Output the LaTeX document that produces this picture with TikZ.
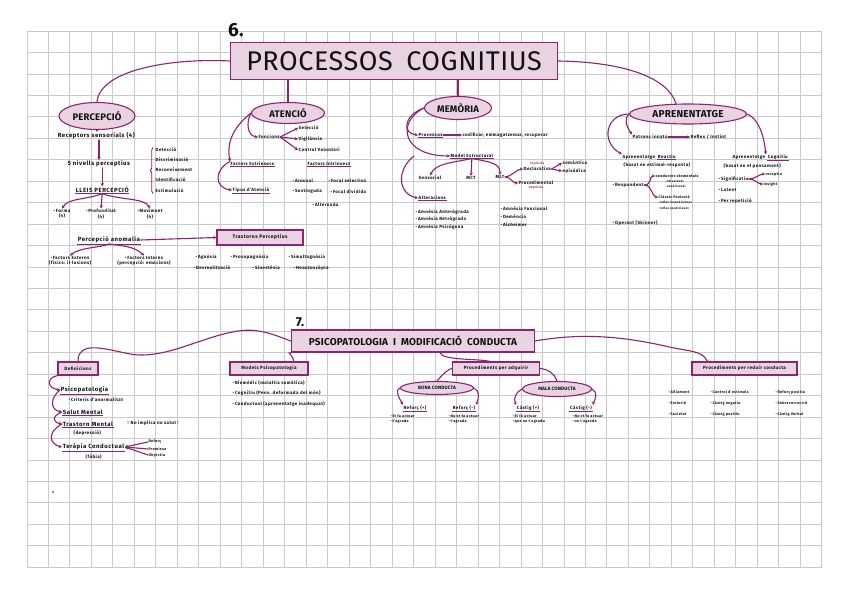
\documentclass[tikz,border=0pt]{standalone}
\usepackage{fontspec}
\setmainfont{Fira Sans}[LetterSpace=9]
\newfontfamily\headfont{Fira Sans}[LetterSpace=2]
\usepackage{tikz}
\usetikzlibrary{shapes.geometric, arrows.meta, positioning, calc, decorations.pathreplacing}
\definecolor{plum}{HTML}{8E2470}
\definecolor{plumfill}{HTML}{E9D2E1}
\definecolor{gridgray}{HTML}{C9C9C9}
\definecolor{ink}{HTML}{111111}
\newcommand{\bulpt}{\textcolor{plum}{\textbullet}\,}
\tikzset{
  lnk/.style={draw=plum, line width=1.1pt, line cap=round},
  arr/.style={lnk, -{Stealth[length=3.2pt, width=3.4pt]}},
  titlebox/.style={rectangle, draw=plum, fill=plumfill, line width=1.3pt, text=ink, inner sep=1pt},
  bub/.style={ellipse, draw=plum, fill=plumfill, line width=1.1pt, inner sep=0pt, text=ink, font=\headfont\bfseries\fontsize{9.5}{10}\selectfont},
  boxed/.style={rectangle, draw=plum, fill=plumfill, line width=1.1pt, inner sep=1pt, text=ink, font=\bfseries\fontsize{4.6}{5.5}\selectfont},
  lbl/.style={inner sep=0.6pt, text=ink, font=\bfseries\fontsize{6}{7}\selectfont},
  sml/.style={inner sep=0.5pt, text=ink, font=\bfseries\fontsize{4.5}{5.4}\selectfont},
  xs/.style={inner sep=0.4pt, text=ink, font=\bfseries\fontsize{3.7}{4.6}\selectfont},
  tny/.style={inner sep=0.3pt, text=ink, font=\bfseries\fontsize{3}{3.6}\selectfont},
  ul/.style={append after command={(\tikzlastnode.south west) edge[draw=plum, line width=0.8pt] (\tikzlastnode.south east)}},
  brc/.style={draw=plum, line width=0.9pt, decorate, decoration={brace, amplitude=2.5pt}},
  gridline/.style={draw=gridgray, line width=0.6pt},
}

\begin{document}
\begin{tikzpicture}[x=1pt, y=-1pt]
  \useasboundingbox (0,0) rectangle (848,599);
  \fill[white] (0,0) rectangle (848,599);

  % Squared paper
  \foreach \i in {0,...,37} \draw[gridline] ({26.8+21.48*\i},31) -- ({26.8+21.48*\i},567);
  \foreach \j in {0,...,25} \draw[gridline] (26.8,{31+21.44*\j}) -- (821.7,{31+21.44*\j});

  % Title 6
  \node[font=\headfont\bfseries\fontsize{19}{19}\selectfont, text=ink] (six) at (236,30) {6.};
  \node[titlebox, minimum width=327pt, minimum height=37pt, font=\headfont\fontsize{27}{27}\selectfont] (pc) at (394,61) {PROCESSOS\enspace COGNITIUS};

  % Percepcio
  \node[bub, minimum width=76pt, minimum height=27pt] (perc) at (97,116) {PERCEPCIÓ};
  \draw[lnk] (pc.west) .. controls (170,58) and (100,70) .. (perc.north);
  \node[lbl, anchor=west] (recep) at (57,136) {Receptors sensorials (4)};
  \draw[arr] (perc.south) -- (perc.south |- recep.north);
  \node[lbl, anchor=west] (niv) at (67,164) {5 nivells perceptius};
  \draw[arr] (recep.south -| niv.north) -- (niv.north);
  \node[sml, anchor=west] (detec) at (155,150) {Detecció};
  \node[sml, anchor=west] (discr) at (155,160) {Discriminació};
  \node[sml, anchor=west] (recon) at (155,170) {Reconeixement};
  \node[sml, anchor=west] (ident) at (155,180) {Identificació};
  \node[sml, anchor=west] (estim) at (155,191) {Estimulació};
  \draw[brc] ([xshift=-2pt]estim.south west) -- ([xshift=-2pt]detec.north west);
  \node[lbl, anchor=west, ul] (lleis) at (75,190) {LLEIS PERCEPCIÓ};
  \draw[arr] (niv.south -| lleis.north) -- (lleis.north);
  \node[sml, align=center] (forma) at (62,214) {\bulpt Forma\\(4)};
  \node[sml, align=center] (profu) at (101,214) {\bulpt Profunditat\\(4)};
  \node[sml, align=center] (movim) at (150,214) {\bulpt Moviment\\(4)};
  \draw[arr] (lleis.south) .. controls (85,200) and (68,198) .. (forma.north);
  \draw[arr] (lleis.south) -- (profu.north);
  \draw[arr] (lleis.south) .. controls (120,200) and (145,198) .. (movim.north);
  \node[lbl, anchor=west, ul] (anom) at (77,240) {Percepció anomalia};
  \node[sml, align=center] (fext) at (70,261) {\bulpt Factors Externs\\(físics: il·lusions)};
  \node[sml, align=center] (fint) at (144,261) {\bulpt Factors Interns\\(percepció: emocions)};
  \draw[arr] (anom.south) .. controls (100,248) and (80,247) .. (fext.north);
  \draw[arr] (anom.south) .. controls (122,246) and (134,246) .. (fint.north);

  % Trastorns
  \node[boxed, minimum width=86pt, minimum height=15pt, font=\bfseries\fontsize{5}{6}\selectfont] (trast) at (260,237.5) {Trastorns Perceptius};
  \draw[arr] (anom.east) -- (trast.west);
  \node[sml, anchor=west] (agnos) at (195,257) {\bulpt Agnòsia};
  \node[sml, anchor=west] (prosop) at (230,257) {\bulpt Prosopagnòsia};
  \node[sml, anchor=west] (simult) at (288,257) {\bulpt Simultagnòsia};
  \node[sml, anchor=west] (desreal) at (193,268) {\bulpt Desrealització};
  \node[sml, anchor=west] (sines) at (252,268) {\bulpt Sinestèsia};
  \node[sml, anchor=west] (heaut) at (293,268) {\bulpt Heautoscòpia};

  % Atencio
  \node[bub, minimum width=73pt, minimum height=21pt] (aten) at (288,113) {ATENCIÓ};
  \draw[lnk] (aten.north |- pc.south) -- (aten.north);
  \node[sml, anchor=west] (func) at (258,137) {Funcions};
  \node[sml, anchor=west] (selec) at (298,128) {Selecció};
  \node[sml, anchor=west] (vigil) at (298,139) {Vigilància};
  \node[sml, anchor=west] (contv) at (298,150) {Control Voluntari};
  \draw[arr] (func.east) -- (selec.west);
  \draw[arr] (func.east) -- (vigil.west);
  \draw[arr] (func.east) -- (contv.west);
  \node[sml, anchor=west, ul] (fextr) at (230,164) {Factors Extrínsecs};
  \node[sml, anchor=west, ul] (fintr) at (307,164) {Factors Intrínsecs};
  \node[sml, anchor=west, ul] (tipus) at (232,190) {Tipus d'Atenció};
  \draw[arr] (aten.west) .. controls (246,122) and (247,136) .. (func.west);
  \draw[arr] (aten.west) .. controls (236,125) and (226,140) .. (fextr.north west);
  \draw[arr] (fextr.north west) .. controls (214,170) and (214,188) .. (tipus.west);
  \node[sml, anchor=west] (arous) at (292,181) {\bulpt Arousal};
  \node[sml, anchor=west] (sosti) at (292,191) {\bulpt Sostinguda};
  \node[sml, anchor=west] (fsel) at (328,181) {\bulpt Focal selectiva};
  \node[sml, anchor=west] (fdiv) at (330,192) {\bulpt Focal dividida};
  \node[sml, anchor=west] (alter2) at (312,205) {\bulpt Alternada};

  % Memoria
  \node[bub, minimum width=67pt, minimum height=23pt] (mem) at (458,108) {MEMÒRIA};
  \draw[lnk] (mem.north |- pc.south) -- (mem.north);
  \node[sml, anchor=west, ul] (proc) at (418,135) {Processos};
  \node[sml, anchor=west] (codif) at (462,135) {codificar, emmagatzemar, recuperar};
  \draw[arr] (proc.east) -- (codif.west);
  \node[sml, anchor=west, ul] (model) at (450,156) {Model Estructural};
  \draw[arr] (mem.west) .. controls (402,116) and (403,134) .. (proc.west);
  \draw[arr] (mem.west) .. controls (396,122) and (402,156) .. (model.west);
  \node[sml] (sens) at (430,178) {Sensorial};
  \node[sml] (mct) at (471,178) {MCT};
  \node[sml] (mlt) at (500,177) {MLT};
  \draw[arr] (model.south) .. controls (452,163) and (436,163) .. (sens.north);
  \draw[arr] (model.south) -- (mct.north);
  \draw[arr] (model.south) .. controls (490,162) and (500,163) .. (mlt.north);
  \node[sml, anchor=west] (decl) at (523,169) {Declarativa};
  \node[tny, text=plum, above=0.3pt of decl] (expl) {Explícita};
  \node[sml, anchor=west] (procd) at (518,183) {Procedimental};
  \node[tny, text=plum, below=0.3pt of procd] (impl) {Implícita};
  \draw[arr] (mlt.east) .. controls +(6,0) and +(-6,0) .. (decl.west);
  \draw[arr] (mlt.east) .. controls +(6,0) and +(-6,0) .. (procd.west);
  \node[sml, anchor=west] (seman) at (562,163) {semàntica};
  \node[sml, anchor=west] (episo) at (562,171) {episòdica};
  \draw[arr] (decl.east) -- (seman.west);
  \draw[arr] (decl.east) -- (episo.west);
  \node[sml, anchor=west, ul] (alter) at (418,198) {Alteracions};
  \draw[arr] ([xshift=-36pt]model.west) .. controls (396,170) and (398,194) .. (alter.west);
  \node[sml, anchor=west] (amant) at (415,212) {\bulpt Amnèsia Anterògrada};
  \node[sml, anchor=west] (amret) at (415,219.5) {\bulpt Amnèsia Retrògrada};
  \node[sml, anchor=west] (ampsi) at (415,227) {\bulpt Amnèsia Psicògena};
  \node[sml, anchor=west] (amfun) at (500,209) {\bulpt Amnèsia Funcional};
  \node[sml, anchor=west] (demen) at (500,217) {\bulpt Demència};
  \node[sml, anchor=west] (alzh) at (500,225) {\bulpt Alzheimer};

  % Aprenentatge
  \node[bub, minimum width=117pt, minimum height=20pt, font=\headfont\bfseries\fontsize{10}{10}\selectfont] (apren) at (688,114) {APRENENTATGE};
  \draw[lnk] (pc.east) .. controls (625,62) and (668,78) .. ([xshift=-12pt]apren.north);
  \node[sml, anchor=west] (patr) at (632,137) {Patrons innats};
  \node[sml, anchor=west] (reflx) at (690,137) {Reflex / Instint};
  \draw[arr] (patr.east) -- (reflx.west);
  \draw[arr] (apren.west) .. controls (624,118) and (626,126) .. (patr.north west);
  \node[sml, anchor=west] (react) at (622,157) {Aprenentatge};
  \node[sml, ul, right=1.5pt of react] (reactw) {Reactiu};
  \node[sml, anchor=west] (reactb) at (623,165) {(basat en estímul-resposta)};
  \draw[arr] (apren.west) .. controls (606,114) and (600,142) .. (react.north west);
  \node[sml, anchor=west] (respo) at (612,185) {\bulpt Respondent};
  \node[xs, anchor=west] (condel) at (655,176) {conductes elementals};
  \node[tny, anchor=west] (emoc) at (665,181) {\bulpt emocional};
  \node[tny, anchor=west] (condi) at (665,186.5) {\bulpt condicional};
  \node[xs, anchor=west] (pavl) at (658,197) {Clàssic Pavlovià};
  \node[tny, anchor=west] (rinc) at (658,202.5) {\bulpt reflex incondicionat};
  \node[tny, anchor=west] (rcon) at (658,208) {\bulpt reflex condicionat};
  \draw[arr] (respo.east) .. controls +(8,0) and +(-6,0) .. (condel.west);
  \draw[arr] (respo.east) .. controls +(8,0) and +(-6,0) .. (pavl.west);
  \node[sml, anchor=west] (opera) at (612,223) {\bulpt Operant (Skinner)};
  \node[sml, anchor=west] (cogn) at (732,157) {Aprenentatge};
  \node[sml, ul, right=1.5pt of cogn] (cognw) {Cognitiu};
  \node[sml, anchor=west] (cognb) at (723,166) {(basat en el pensament)};
  \draw[arr] (apren.east) .. controls (758,118) and (764,135) .. (cogn.north east);
  \node[sml, anchor=west] (signi) at (718,179) {\bulpt Significatiu};
  \node[xs, anchor=west] (recpt) at (765,174) {receptiu};
  \node[xs, anchor=west] (insig) at (763,184) {insight};
  \draw[arr] (signi.east) .. controls +(6,0) and +(-5,0) .. (recpt.west);
  \draw[arr] (signi.east) .. controls +(6,0) and +(-5,0) .. (insig.west);
  \node[sml, anchor=west] (laten) at (718,190) {\bulpt Latent};
  \node[sml, anchor=west] (repet) at (718,201) {\bulpt Per repetició};

  % Title 7
  \node[font=\headfont\bfseries\fontsize{13}{13}\selectfont, text=ink] (seven) at (300,322) {7.};
  \node[titlebox, minimum width=243pt, minimum height=22pt, font=\headfont\bfseries\fontsize{10}{10}\selectfont] (psico) at (413,341) {PSICOPATOLOGIA\enspace I\enspace MODIFICACIÓ\enspace CONDUCTA};

  % Definicions
  \node[boxed, minimum width=40pt, minimum height=13pt] (defs) at (78,368.5) {Definicions};
  \draw[lnk] (psico.west) .. controls (272,334) and (258,328) .. (238,331) .. controls (200,337) and (165,360) .. (130,354) .. controls (105,349) and (78,340) .. (defs.north);
  \node[lbl, anchor=west, ul] (psicop) at (60,390) {Psicopatologia};
  \node[sml, anchor=west] (crit) at (68,400) {\bulpt Criteris d'anormalitat};
  \node[lbl, anchor=west, ul] (salut) at (62,412) {Salut Mental};
  \node[lbl, anchor=west, ul] (trastm) at (62,424) {Trastorn Mental};
  \node[sml, anchor=west] (depr) at (73,433) {(depressió)};
  \node[sml, anchor=west] (noimpl) at (127,423) {\textcolor{plum}{!} No implica no salut \textcolor{plum}{!}};
  \node[lbl, anchor=west, ul] (terap) at (62,447) {Teràpia Conductual};
  \node[sml, anchor=west] (fobia) at (85,457) {(fòbia)};
  \node[xs, anchor=west] (refz) at (148,442) {Reforç};
  \node[xs, anchor=west] (premi) at (148,449) {Premissa};
  \node[xs, anchor=west] (objec) at (148,455) {Objectiu};
  \draw[arr] (refz.west) -- (terap.east);
  \draw[arr] (premi.west) -- (terap.east);
  \draw[arr] (objec.west) -- (terap.east);
  \draw[arr] (defs.south west) .. controls (46,378) and (47,388) .. (psicop.west);
  \draw[arr] (psicop.west) .. controls (50,398) and (50,410) .. (salut.west);
  \draw[arr] (salut.west) .. controls (52,416) and (52,422) .. (trastm.west);
  \draw[arr] (trastm.west) .. controls (47,432) and (49,444) .. (terap.west);
  \fill[ink] (53,492) circle (0.9);

  % Models
  \node[boxed, minimum width=78pt, minimum height=13pt] (models) at (269,368.5) {Models Psicopatologia};
  \draw[lnk] ([xshift=-15pt]models.north east) .. controls +(0,-7) and +(-5,0) .. (psico.south west);
  \node[sml, anchor=west] (biom) at (232,383) {\bulpt Biomèdic (malaltia somàtica)};
  \node[sml, anchor=west] (cogni) at (232,393) {\bulpt Cognitiu (Pens. deformada del món)};
  \node[sml, anchor=west] (condu) at (232,404) {\bulpt Conductual (aprenentatge inadequat)};

  % Procediments per adquirir
  \node[boxed, minimum width=87pt, minimum height=13pt] (padq) at (496,368.5) {Procediments per adquirir};
  \draw[lnk] ([xshift=27pt]psico.south) .. controls +(2,8) and +(-12,-3) .. ([xshift=-6pt]padq.north);
  \node[bub, minimum width=73pt, minimum height=13pt, font=\headfont\bfseries\fontsize{4.8}{5}\selectfont] (bona) at (437,388) {BONA CONDUCTA};
  \node[bub, minimum width=69pt, minimum height=15pt, font=\headfont\bfseries\fontsize{4.8}{5}\selectfont] (mala) at (557,389) {MALA CONDUCTA};
  \draw[lnk] (padq.west) .. controls (448,369) and (443,374) .. (bona.north);
  \draw[lnk] (padq.east) .. controls (548,369) and (555,374) .. (mala.north);
  \node[sml, ul] (rfp) at (415,408) {Reforç (+)};
  \node[sml, ul] (rfn) at (464,408) {Reforç (-)};
  \node[sml, ul] (csp) at (528,408) {Càstig (+)};
  \node[sml, ul] (csn) at (581,408) {Càstig (-)};
  \draw[arr] (bona.west) .. controls +(-6,3) and +(-3,-6) .. (rfp.north west);
  \draw[arr] (bona.east) .. controls +(6,3) and +(3,-6) .. (rfn.north east);
  \draw[arr] (mala.west) .. controls +(-6,3) and +(-3,-6) .. (csp.north west);
  \draw[arr] (mala.east) .. controls +(6,3) and +(3,-6) .. (csn.north east);
  \node[xs, anchor=north west, align=left] (rfpt) at (390,414) {\bulpt Et fa actuar\\\bulpt t'agrada};
  \node[xs, anchor=north west, align=left] (rfnt) at (448,414) {\bulpt No et fa actuar\\\bulpt t'agrada};
  \node[xs, anchor=north west, align=left] (cspt) at (512,414) {\bulpt Et fa actuar\\\bulpt que no t'agrada};
  \node[xs, anchor=north west, align=left] (csnt) at (572,414) {\bulpt No et fa actuar\\\bulpt no t'agrada};

  % Procediments per reduir
  \node[boxed, minimum width=105pt, minimum height=13pt] (pred) at (744.5,368.5) {Procediments per reduir conducta};
  \draw[lnk] (psico.east) .. controls (580,333) and (620,336) .. (665,346) .. controls (690,352) and (702,350) .. ([xshift=-37pt]pred.north);
  \node[xs, anchor=west] (aill) at (668,392) {\bulpt Aïllament};
  \node[xs, anchor=west] (extin) at (668,403) {\bulpt Extinció};
  \node[xs, anchor=west] (sacie) at (668,414) {\bulpt Sacietat};
  \node[xs, anchor=west] (cestim) at (710,392) {\bulpt Control d'estímuls};
  \node[xs, anchor=west] (cneg) at (710,403) {\bulpt Càstig negatiu};
  \node[xs, anchor=west] (cpos) at (710,414) {\bulpt Càstig positiu};
  \node[xs, anchor=west] (rpos) at (775,392) {\bulpt Reforç positiu};
  \node[xs, anchor=west] (sobre) at (775,403) {\bulpt Sobrecorrecció};
  \node[xs, anchor=west] (cverb) at (775,414) {\bulpt Càstig Verbal};
\end{tikzpicture}
\end{document}
